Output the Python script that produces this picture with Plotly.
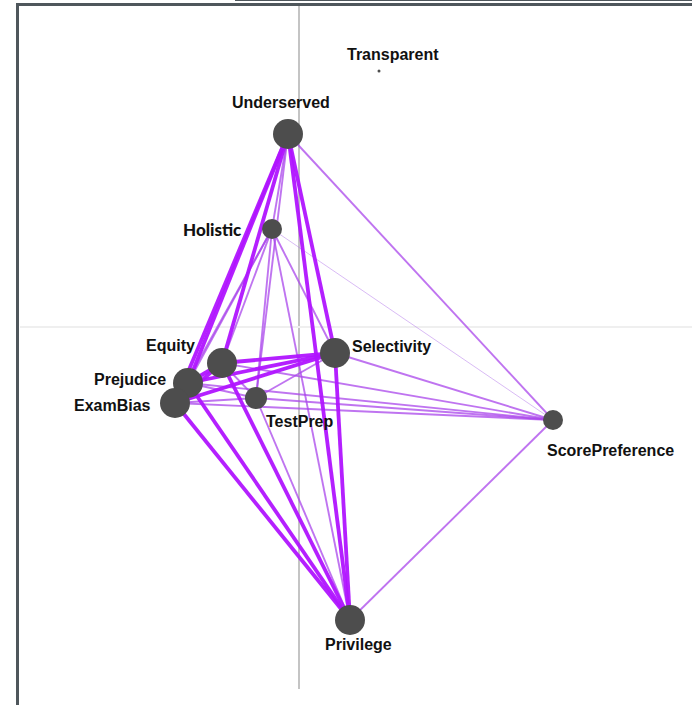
import plotly.graph_objects as go

# Node data
nodes = ["Transparent", "Underserved", "Holistic", "Equity", "Selectivity",
         "Prejudice", "ExamBias", "TestPrep", "ScorePreference", "Privilege"]
node_x = [0.80, -0.11, -0.27, -0.77, 0.36, -1.11, -1.24, -0.43, 2.54, 0.51]
node_y = [2.56, 1.93, 0.98, -0.36, -0.26, -0.56, -0.76, -0.71, -0.93, -2.93]
node_size = [3, 30, 20, 30, 30, 30, 30, 22, 20, 30]

# Edges: (source, target, weight 1..3)
edge_src = ["Underserved", "Underserved", "Underserved", "Underserved", "Underserved",
            "Equity", "Prejudice", "ExamBias", "Prejudice", "ExamBias", "Equity",
            "Selectivity", "Prejudice", "ExamBias", "Prejudice", "Holistic",
            "Underserved", "Underserved", "Underserved", "Holistic", "Holistic",
            "Holistic", "Holistic", "Holistic", "Selectivity", "Equity", "Prejudice",
            "ExamBias", "TestPrep", "Privilege", "TestPrep", "TestPrep", "TestPrep",
            "TestPrep", "TestPrep", "Holistic"]
edge_dst = ["Equity", "Prejudice", "ExamBias", "Selectivity", "Privilege",
            "Selectivity", "Selectivity", "Selectivity", "Privilege", "Privilege", "Privilege",
            "Privilege", "Equity", "Equity", "ExamBias", "Equity",
            "ScorePreference", "Holistic", "TestPrep", "Selectivity", "Prejudice",
            "ExamBias", "TestPrep", "Privilege", "ScorePreference", "ScorePreference", "ScorePreference",
            "ScorePreference", "ScorePreference", "ScorePreference", "Selectivity", "Privilege", "Prejudice",
            "ExamBias", "Equity", "ScorePreference"]
edge_w = [3, 3, 3, 3, 3,
          3, 3, 3, 3, 3, 3,
          3, 3, 3, 3, 2,
          2, 2, 2, 2, 2,
          2, 2, 2, 2, 2, 2,
          2, 2, 2, 2, 2, 2,
          2, 2, 1]

edge_style = {
    3: dict(color="rgba(176,20,255,0.95)", width=3.8),
    2: dict(color="rgba(170,70,235,0.75)", width=1.9),
    1: dict(color="rgba(180,120,235,0.5)", width=1.0),
}

pos = {n: (x, y) for n, x, y in zip(nodes, node_x, node_y)}

fig = go.Figure()
order = sorted(range(len(edge_src)), key=lambda i: edge_w[i])
for i in order:
    s, t, w = edge_src[i], edge_dst[i], edge_w[i]
    fig.add_trace(go.Scatter(
        x=[pos[s][0], pos[t][0]], y=[pos[s][1], pos[t][1]],
        mode="lines", line=edge_style[w], hoverinfo="skip", showlegend=False))

fig.add_trace(go.Scatter(
    x=node_x, y=node_y, mode="markers", text=nodes, hoverinfo="text",
    opacity=1,
    marker=dict(size=node_size, color="#4d4d4d", opacity=1, line=dict(width=0)),
    showlegend=False))

# label placement (style): xanchor, xshift, yshift
label_place = {
    "Transparent": ("center", 14, 17),
    "Underserved": ("center", -7, 32),
    "Holistic": ("right", -28, 0),
    "Equity": ("right", -25, 18),
    "Selectivity": ("left", 15, 7),
    "Prejudice": ("right", -20, 4),
    "ExamBias": ("right", -22, -2),
    "TestPrep": ("left", 8, -23),
    "ScorePreference": ("left", -8, -30),
    "Privilege": ("center", 8, -24),
}
for n, x, y in zip(nodes, node_x, node_y):
    xa, xs, ys = label_place[n]
    if n == "Holistic":
        fnt = dict(family="Lato", size=17, color="#111111", weight=900)
    else:
        fnt = dict(family="Liberation Sans, Arial", size=16, color="#111111", weight="bold")
    fig.add_annotation(x=x, y=y, text=n, showarrow=False,
                       xanchor=xa, yanchor="middle", xshift=xs, yshift=ys,
                       font=fnt)

W, H = 692, 705
ml, mr, mt, mb = 20, 0, 6, 16
pw, ph = W - ml - mr, H - mt - mb

def px_x(p):
    return (p - ml) / pw

def px_y(p):
    return (H - mb - p) / ph

shapes = [
    dict(type="line", xref="paper", yref="paper", x0=px_x(17.5), x1=px_x(17.5),
         y0=px_y(705), y1=px_y(3), line=dict(color="#4f575c", width=3)),
    dict(type="line", xref="paper", yref="paper", x0=px_x(16), x1=px_x(692),
         y0=px_y(4.5), y1=px_y(4.5), line=dict(color="#4f575c", width=3)),
    dict(type="line", xref="paper", yref="paper", x0=px_x(235), x1=px_x(692),
         y0=px_y(0.5), y1=px_y(0.5), line=dict(color="#4f575c", width=1)),
]

fig.update_layout(
    width=W, height=H,
    margin=dict(l=ml, r=mr, t=mt, b=mb),
    paper_bgcolor="white", plot_bgcolor="white",
    xaxis=dict(range=[(ml - 299) / 100, (W - mr - 299) / 100], showgrid=False,
               zeroline=True, zerolinecolor="#c4c4c4", zerolinewidth=1.5,
               showticklabels=False, ticks=""),
    yaxis=dict(range=[(327 - (H - mb)) / 100, (327 - mt) / 100], showgrid=False,
               zeroline=True, zerolinecolor="#efefef", zerolinewidth=1.5,
               showticklabels=False, ticks=""),
    shapes=shapes,
)

fig.write_html("out.html", config={"displayModeBar": False},
               post_script="document.body.style.margin='0';document.body.style.overflow='hidden';")
